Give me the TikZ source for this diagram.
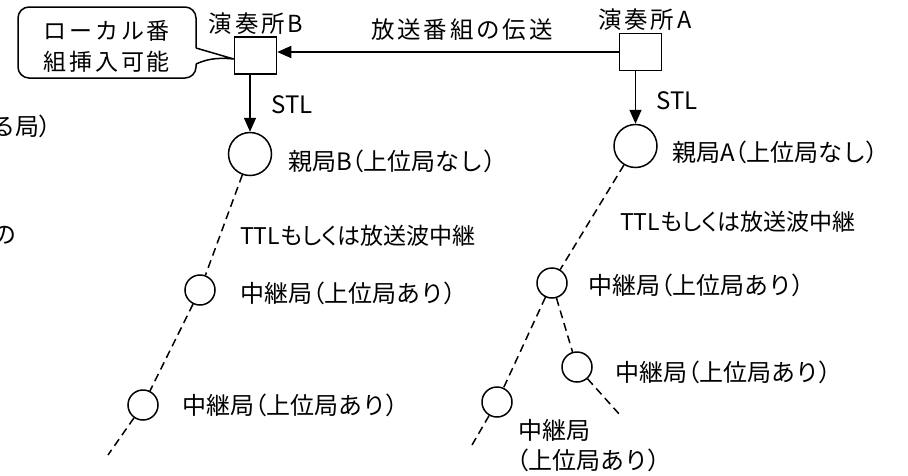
\documentclass[tikz,border=0pt]{standalone}
\usepackage{fontspec}
\setmainfont{Noto Sans CJK JP}
\newfontfamily\jpp{Noto Sans CJK JP}[RawFeature=+palt]
\newfontfamily\jpw{Noto Sans CJK JP}[LetterSpace=12]
\newcommand\jlp{{\jpp （}}
\newcommand\jrp{{\jpp ）}}
\usetikzlibrary{arrows.meta,calc}
\begin{document}
\begin{tikzpicture}[x=1pt,y=-1pt,
  lw/.style={line width=1.5pt},
  studio/.style={draw,lw,minimum width=42pt,minimum height=37pt,inner sep=0pt},
  bigst/.style={draw,lw,circle,minimum size=43pt,inner sep=0pt},
  smallst/.style={draw,lw,circle,minimum size=30pt,inner sep=0pt},
  lbl/.style={inner sep=0pt,font=\fontsize{24}{28}\selectfont},
  lblw/.style={lbl,anchor=west},
  ttl/.style={inner sep=0pt,anchor=west,font=\fontsize{23}{28}\selectfont\jpp},
  feed/.style={lw,-{Triangle[width=12pt,length=14pt]}},
  relay/.style={lw,dash pattern=on 8pt off 5pt}]
\useasboundingbox (0,0) rectangle (908,475);
\clip (0,0) rectangle (908,475);
\fill[white] (0,0) rectangle (908,475);

% cut-off fragments at left edge
\node[lblw] (fragA) at (-9,126) {る局\jrp};
\node[lblw] (fragB) at (-8,235) {の};

% studios
\node[studio] (sB) at (255.5,55.5) {};
\node[studio] (sA) at (640.5,52) {};
\node[lbl,font=\fontsize{23.5}{28}\selectfont\jpw] (tB) at (256,24) {演奏所B};
\node[lbl,font=\fontsize{23.5}{28}\selectfont\jpw] (tA) at (645,20) {演奏所A};
\node[lbl,font=\fontsize{23.5}{28}\selectfont\jpw] (tX) at (462,30) {放送番組の伝送};

% callout
\coordinate (tip) at ($(sB.west)+(0,3.5)$);
\draw[lw,rounded corners=11pt] (196,48) -- (196,7) -- (18,7) -- (18,78) -- (196,78) -- (196,64);
\draw[lw] (196,64) .. controls (205,60) and (215,57) .. (tip) -- (196,48);
\node[inner sep=0pt,align=center,font=\fontsize{23}{31}\selectfont\jpw] (callout) at (107,46) {ローカル番\\組挿入可能};

% parent stations
\node[bigst] (pB) at (250,154) {};
\node[bigst] (pA) at (635.5,146) {};

\draw[feed] (sA.west) -- (sA.west -| sB.east);
\draw[feed] (pB.north |- sB.south) -- (pB.north);
\draw[feed] (pA.north |- sA.south) -- (pA.north);

\node[lbl] (stlB) at (292,105) {STL};
\node[lbl] (stlA) at (677,101) {STL};
\node[lblw] (npB) at (288,161) {親局B\jlp 上位局なし\jrp};
\node[lblw] (npA) at (672,152) {親局A\jlp 上位局なし\jrp};
\node[ttl] (ttlB) at (240,236) {TTLもしくは放送波中継};
\node[ttl] (ttlA) at (620,222) {TTLもしくは放送波中継};

% relay stations
\node[smallst] (b1) at (200,290) {};
\node[smallst] (b2) at (143,405) {};
\node[smallst] (a1) at (552,283) {};
\node[smallst] (a2) at (577,367) {};
\node[smallst] (a3) at (497,402) {};
\coordinate (eB) at (108,455);
\coordinate (eA2) at (620,415);
\coordinate (eA3) at (472,445);

\draw[relay] (pB) -- (b1);
\draw[relay] (b1) -- (b2);
\draw[relay] (b2) -- (eB);
\draw[relay] (pA) -- (a1);
\draw[relay] (a1) -- (a2);
\draw[relay] (a1) -- (a3);
\draw[relay] (a2) -- (eA2);
\draw[relay] (a3) -- (eA3);

\node[lblw] (lb1) at (240,293) {中継局\jlp 上位局あり\jrp};
\node[lblw] (lb2) at (182,405) {中継局\jlp 上位局あり\jrp};
\node[lblw] (la1) at (588,285) {中継局\jlp 上位局あり\jrp};
\node[lblw] (la2) at (615,372) {中継局\jlp 上位局あり\jrp};
\node[lblw] (la3a) at (518,430) {中継局};
\node[lblw] (la3b) at (516,460) {\jlp 上位局あり\jrp};
\end{tikzpicture}
\end{document}
